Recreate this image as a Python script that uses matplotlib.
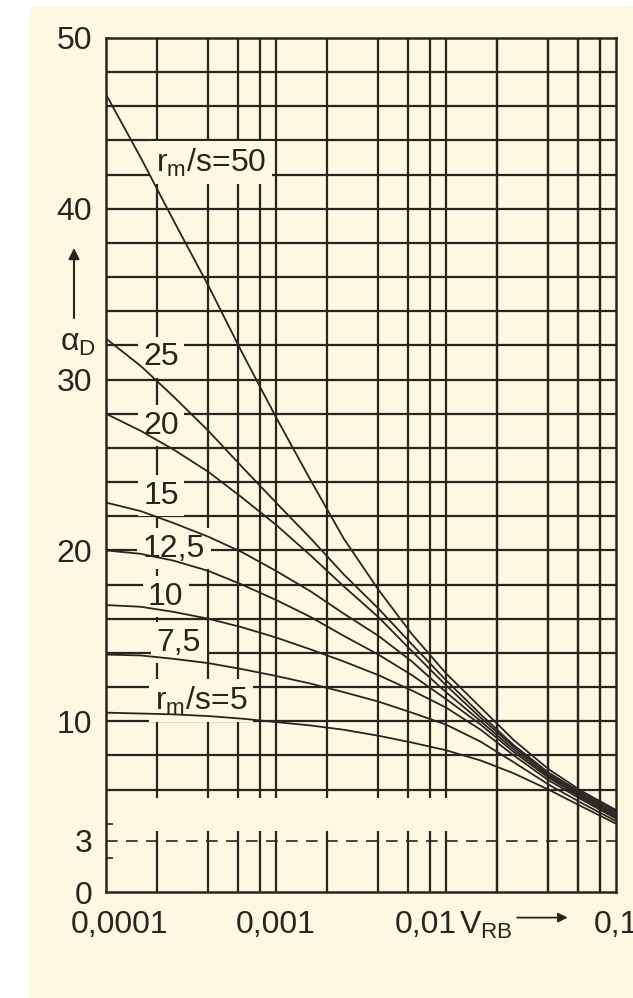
import matplotlib
matplotlib.use('Agg')
import matplotlib.pyplot as plt
import numpy as np
from matplotlib.patches import Rectangle

# ---------------- data ----------------
v_rb = [0.0001, 0.00016, 0.00025, 0.0004, 0.00063, 0.001, 0.0016, 0.0025,
        0.004, 0.0063, 0.01, 0.016, 0.025, 0.04, 0.063, 0.1]
alpha_50 = [46.7, 43.0, 39.3, 35.5, 31.6, 27.8, 24.1, 20.7, 17.7, 15.1, 12.8, 10.8, 8.9, 7.2, 5.9, 4.8]
alpha_25 = [32.4, 30.8, 29.0, 27.0, 24.9, 22.8, 20.7, 18.6, 16.6, 14.5, 12.4, 10.4, 8.6, 7.0, 5.8, 4.7]
alpha_20 = [28.0, 27.0, 25.9, 24.6, 23.1, 21.5, 19.7, 17.9, 16.1, 14.1, 12.1, 10.2, 8.5, 6.9, 5.7, 4.6]
alpha_15 = [22.8, 22.3, 21.6, 20.8, 19.9, 18.8, 17.6, 16.3, 15.0, 13.5, 11.7, 10.0, 8.35, 6.8, 5.6, 4.5]
alpha_12_5 = [20.0, 19.8, 19.4, 18.8, 18.0, 17.1, 16.1, 15.0, 13.9, 12.7, 11.3, 9.8, 8.2, 6.7, 5.5, 4.4]
alpha_10 = [16.8, 16.7, 16.4, 16.0, 15.5, 14.9, 14.2, 13.5, 12.7, 11.8, 10.8, 9.5, 8.0, 6.55, 5.4, 4.3]
alpha_7_5 = [13.9, 13.85, 13.65, 13.4, 13.05, 12.65, 12.2, 11.7, 11.15, 10.5, 9.8, 8.8, 7.6, 6.3, 5.2, 4.15]
alpha_5 = [10.5, 10.45, 10.4, 10.3, 10.15, 9.95, 9.75, 9.5, 9.15, 8.75, 8.3, 7.7, 6.95, 6.0, 5.0, 4.0]
series = [alpha_50, alpha_25, alpha_20, alpha_15, alpha_12_5, alpha_10, alpha_7_5, alpha_5]

curve_labels = [r'r$_\mathrm{m}$/s=50', '25', '20', '15', '12,5', '10', '7,5',
                r'r$_\mathrm{m}$/s=5']
label_x = [4.15e-4, 2.11e-4, 2.11e-4, 2.11e-4, 2.51e-4, 2.25e-4, 2.69e-4, 3.62e-4]
label_y = [42.7, 31.3, 27.3, 23.2, 20.1, 17.3, 14.6, 11.2]

y_ticks = [0, 3, 10, 20, 30, 40, 50]
y_ticklabels = ['0', '3', '10', '20', '30', '40', '50']
x_ticks = [0.0001, 0.001, 0.01, 0.1]
x_ticklabels = ['0,0001', '0,001', '0,01', '0,1']
threshold = 3

# ---------------- style ----------------
plt.rcParams['font.family'] = ['Liberation Sans', 'DejaVu Sans']
plt.rcParams['mathtext.fontset'] = 'custom'
plt.rcParams['mathtext.rm'] = 'Liberation Sans'
plt.rcParams['mathtext.it'] = 'Liberation Sans:italic'
plt.rcParams['mathtext.bf'] = 'Liberation Sans:bold'

cream = '#FCF8E2'
ink = '#2a2420'
fs = 23

W, H = 633, 998
fig = plt.figure(figsize=(W / 100, H / 100), dpi=100)
fig.patch.set_facecolor('white')
fig.add_artist(Rectangle((30 / W, 0), 1, 1 - 7 / H, transform=fig.transFigure,
                         facecolor=cream, edgecolor='none', zorder=-10))

ax = fig.add_axes([106 / W, 1 - 892 / H, 510 / W, 854 / H])
ax.set_facecolor(cream)
ax.set_xscale('log')
ax.set_xlim(1e-4, 1e-1)
ax.set_ylim(0, 50)

# grid
grid_y = np.arange(6, 50, 2)
ax.hlines(grid_y, 1e-4, 1e-1, color=ink, lw=1.6, zorder=1)
mult = [1, 2, 4, 6, 8]
for d in [1e-4, 1e-3, 1e-2]:
    for m in mult:
        xv = m * d
        if xv <= 1e-4 * 1.001:
            continue
        if xv <= 1e-2 * 1.001:
            ax.vlines(xv, 0, 3.6, color=ink, lw=1.6, zorder=1)
            ax.vlines(xv, 5.5, 50, color=ink, lw=1.6, zorder=1)
        else:
            ax.vlines(xv, 0, 50, color=ink, lw=1.6, zorder=1)
for m in [2, 4, 6, 8]:
    ax.vlines(m * 1e-2, 0, 50, color=ink, lw=1.6, zorder=1)

ax.axhline(threshold, color=ink, lw=1.2, dashes=(7, 5), zorder=1)

for s in ax.spines.values():
    s.set_color(ink)
    s.set_linewidth(1.8)

# curves
for vals in series:
    ax.plot(v_rb, vals, color=ink, lw=1.3, zorder=4, solid_joinstyle='round')

# curve labels
for txt, lx, ly in zip(curve_labels, label_x, label_y):
    ax.text(lx, ly, txt, ha='center', va='center', fontsize=fs, color=ink, zorder=3,
            bbox=dict(facecolor=cream, edgecolor='none', pad=4))

# axes ticks
ax.set_yticks(y_ticks)
ax.set_yticklabels(y_ticklabels)
ax.set_yticks([2, 4], minor=True)
ax.tick_params(axis='y', which='major', length=0, pad=10, labelsize=fs, labelcolor=ink)
ax.tick_params(axis='y', which='minor', direction='in', length=5, width=1.2, color=ink)
ax.xaxis.set_major_locator(matplotlib.ticker.NullLocator())
ax.xaxis.set_minor_locator(matplotlib.ticker.NullLocator())

xt = ax.get_xaxis_transform()
ylab = -0.0386
ax.text(x_ticks[0] * 10 ** 0.08, ylab, x_ticklabels[0], transform=xt, ha='center', va='center',
        fontsize=fs, color=ink, clip_on=False)
ax.text(x_ticks[1], ylab, x_ticklabels[1], transform=xt, ha='center', va='center',
        fontsize=fs, color=ink, clip_on=False)
ax.text(x_ticks[2] * 10 ** 0.065, ylab, x_ticklabels[2], transform=xt, ha='right', va='center',
        fontsize=fs, color=ink, clip_on=False)
ax.text(x_ticks[2] * 10 ** 0.075, ylab, r'V$_\mathrm{RB}$', transform=xt, ha='left', va='center',
        fontsize=fs, color=ink, clip_on=False)
ax.text(x_ticks[3], ylab, x_ticklabels[3], transform=xt, ha='center', va='center',
        fontsize=fs, color=ink, clip_on=False)
ax.annotate('', xy=(5.2e-2, -0.03), xytext=(2.62e-2, -0.03), xycoords=xt,
            arrowprops=dict(arrowstyle='-|>', lw=1.3, color=ink, mutation_scale=14,
                            shrinkA=0, shrinkB=0), annotation_clip=False)

# y-axis quantity label with arrow
fig.text(78 / W, 1 - 343 / H, r'$\mathrm{\alpha}_\mathrm{D}$', ha='center', va='center',
         fontsize=fs, color=ink)
ax.annotate('', xy=(74, H - 248), xytext=(74, H - 318), xycoords='figure pixels',
            arrowprops=dict(arrowstyle='-|>', lw=1.5, color=ink, mutation_scale=16,
                            shrinkA=0, shrinkB=0), annotation_clip=False)

fig.savefig('out.png', dpi=100, facecolor=fig.get_facecolor())
